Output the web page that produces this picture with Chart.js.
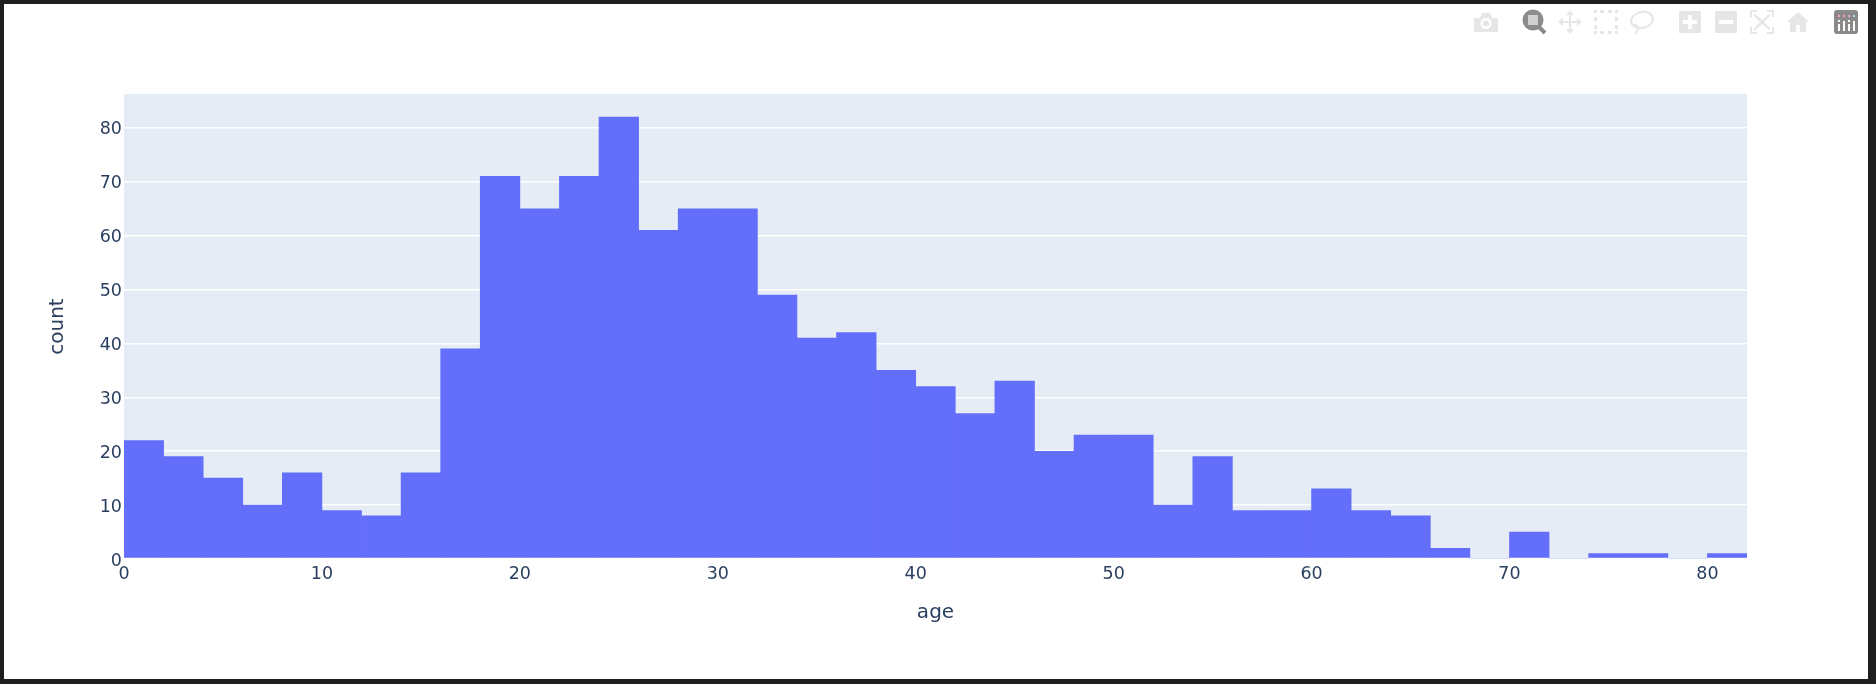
<!DOCTYPE html>
<html>
<head>
<meta charset="utf-8">
<title>Age histogram</title>
<script src="https://cdn.jsdelivr.net/npm/chart.js@4"></script>
<style>
  html, body { margin: 0; padding: 0; background: #fff; width: 1876px; height: 684px; overflow: hidden; }
  #wrap { position: absolute; left: 0; top: 0; width: 1876px; height: 684px; }
  #frame { position: absolute; left: 0; top: 0; width: 1876px; height: 684px; box-sizing: border-box;
           border-style: solid; border-color: #1e1e1e; border-width: 4px 8px 5px 4px; pointer-events: none; }
  #bar { position: absolute; left: 0; top: 0; }
</style>
</head>
<body>
<div id="wrap"><canvas id="c" width="1876" height="684"></canvas></div>
<div id="frame"></div>
<svg id="bar" width="1876" height="60" xmlns="http://www.w3.org/2000/svg">
  <g fill="#e6e6e6">
    <!-- camera -->
    <path fill-rule="evenodd" d="M1474 18h6l2-5h8l2 5h6v14h-24z M1486 18a5.500 5.500 0 1 0 .01 0z"/>
    <circle cx="1486" cy="23.500" r="3"/>
    <!-- pan -->
    <path d="M1570 10l4 5h-3v6h6v-3l5 4-5 4v-3h-6v6h3l-4 5-4-5h3v-6h-6v3l-5-4 5-4v3h6v-6h-3z"/>
    <!-- box select -->
    <path d="M1594 10h3v3h-3zM1600 10h4v3h-4zM1608 10h4v3h-4zM1615 10h3v3h-3zM1594 17h3v4h-3zM1615 17h3v4h-3zM1594 25h3v4h-3zM1615 25h3v4h-3zM1594 31h3v3h-3zM1600 31h4v3h-4zM1608 31h4v3h-4zM1615 31h3v3h-3z"/>
    <!-- zoom in -->
    <path fill-rule="evenodd" d="M1679 11h22v22h-22z M1688 15v5h-5v4h5v5h4v-5h5v-4h-5v-5z"/>
    <!-- zoom out -->
    <path fill-rule="evenodd" d="M1715 11h22v22h-22z M1719 20v4h14v-4z"/>
    <!-- autoscale -->
    <path d="M1750 10h7v2h-5v5h-2zM1767 10h7v7h-2v-5h-5zM1750 27h2v5h5v2h-7zM1772 27h2v7h-7v-2h5zM1755 14l7 6 7-6 1.500 1.500-6.500 6.500 6.500 6.500-1.500 1.500-7-6-7 6-1.500-1.500 6.500-6.500-6.500-6.500z"/>
    <!-- home -->
    <path d="M1798 12l11 10h-3v10h-6v-7h-4v7h-6v-10h-3z"/>
  </g>
  <!-- lasso -->
  <g fill="none" stroke="#e6e6e6" stroke-width="2">
    <ellipse cx="1642" cy="20" rx="11" ry="8" transform="rotate(-12 1642 20)"/>
    <path d="M1634 25c4 0 6 3 3 5l-1 4"/>
  </g>
  <!-- zoom (active) -->
  <g>
    <circle cx="1533" cy="20" r="10.500" fill="#8c8c8c"/>
    <rect x="1528" y="15" width="10" height="10" fill="#d0d0d0"/>
    <path d="M1539 27l6 6" stroke="#8c8c8c" stroke-width="4" fill="none"/>
  </g>
  <!-- logo -->
  <rect x="1834" y="10" width="24" height="24" rx="3" fill="#8a8a8a"/>
  <g fill="#fff">
    <rect x="1838" y="24" width="2" height="7"/><rect x="1843" y="21" width="2" height="10"/>
    <rect x="1848" y="24" width="2" height="7"/><rect x="1853" y="21" width="2" height="10"/>
    <rect x="1838" y="20" width="2" height="2"/><rect x="1848" y="20" width="2" height="2"/>
  </g>
  <g>
    <rect x="1838" y="15" width="2" height="2" fill="#f0a0c0"/><rect x="1843" y="15" width="2" height="2" fill="#f0a0c0"/>
    <rect x="1848" y="15" width="2" height="2" fill="#d0b0d0"/><rect x="1853" y="15" width="2" height="2" fill="#a0d8e8"/>
  </g>
</svg>
<script>
const binWidth = 2;
const binStarts = [0,2,4,6,8,10,12,14,16,18,20,22,24,26,28,30,32,34,36,38,40,42,44,46,48,50,52,54,56,58,60,62,64,66,68,70,72,74,76,78,80];
const counts = [22,19,15,10,16,9,8,16,39,71,65,71,82,61,65,65,49,41,42,35,32,27,33,20,23,23,10,19,9,9,13,9,8,2,0,5,0,1,1,0,1];
const xTitle = 'age';
const yTitle = 'count';
const xRange = [0, 82];
const yRange = [0, 86.3];

const textColor = '#2a3f5f';
const tickFont = { family: '"DejaVu Sans"', size: 17.5 };
const titleFont = { family: '"DejaVu Sans"', size: 20 };

const plotBackground = {
  id: 'plotBackground',
  beforeDraw(chart) {
    const a = chart.chartArea, c = chart.ctx;
    c.save();
    c.fillStyle = '#e5ecf6';
    c.fillRect(a.left, a.top, a.right - a.left, a.bottom - a.top);
    c.restore();
  }
};

new Chart(document.getElementById('c'), {
  type: 'bar',
  data: {
    datasets: [{
      label: yTitle,
      data: binStarts.map((s, i) => ({ x: s + binWidth / 2, y: counts[i] })),
      backgroundColor: '#636efa',
      borderWidth: 0,
      barPercentage: 1,
      categoryPercentage: 1
    }]
  },
  options: {
    responsive: false,
    animation: false,
    plugins: { legend: { display: false }, tooltip: { enabled: false } },
    layout: { padding: { left: 0, top: 94, right: 129, bottom: 0 } },
    scales: {
      x: {
        type: 'linear',
        min: xRange[0], max: xRange[1],
        offset: false,
        grid: { display: false },
        border: { display: false },
        ticks: { stepSize: 10, includeBounds: false, autoSkip: false, maxRotation: 0, color: textColor, font: tickFont, padding: -3, callback: v => String(v) },
        title: { display: true, text: xTitle, color: textColor, font: titleFont, padding: { top: 0, bottom: 59 } },
        afterFit(s) { s.height = 125; }
      },
      y: {
        min: yRange[0], max: yRange[1],
        grid: { color: '#ffffff', lineWidth: ctx => ctx.tick.value === 0 ? 3 : 1.5, drawTicks: false },
        border: { display: false },
        ticks: { stepSize: 10, includeBounds: false, color: textColor, font: tickFont, padding: 2, labelOffset: 2, callback: v => String(v) },
        title: { display: true, text: yTitle, color: textColor, font: titleFont, padding: { top: 46, bottom: 0 } },
        afterFit(s) { s.width = 124; }
      }
    }
  },
  plugins: [plotBackground]
});
</script>
</body>
</html>
